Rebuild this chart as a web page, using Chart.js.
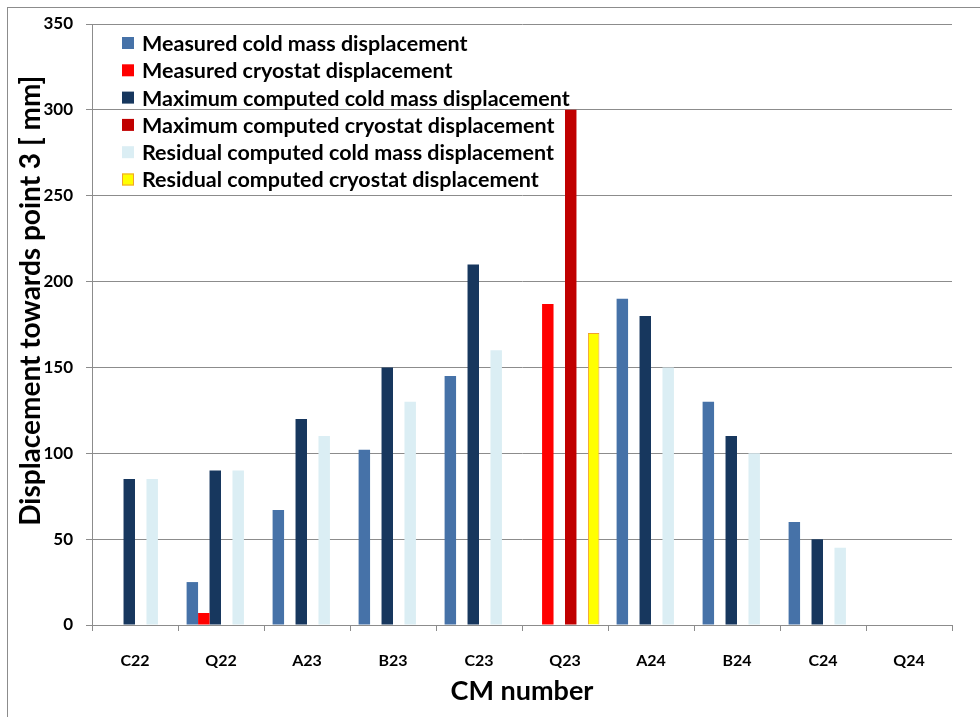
<!DOCTYPE html>
<html>
<head>
<meta charset="utf-8">
<script src="https://cdn.jsdelivr.net/npm/chart.js@4.4.0/dist/chart.umd.min.js"></script>
<style>
  html, body { margin: 0; padding: 0; background: #fff; overflow: hidden; }
  #frame { position: absolute; left: 7px; top: 7px; width: 1200px; height: 1000px; border: 1px solid #8c8c8c; }
  #wrap { position: absolute; left: 0; top: 0; width: 980px; height: 717px; }
</style>
</head>
<body>
<div id="frame"></div>
<div id="wrap"><canvas id="grafica"></canvas></div>
<script>
// CM numbers along the x axis
const labels = ['C22', 'Q22', 'A23', 'B23', 'C23', 'Q23', 'A24', 'B24', 'C24', 'Q24'];

// displacements towards point 3, in mm (null = no bar)
const measuredColdMass  = [null, 25, 67, 102, 145, null, 190, 130, 60, null];
const measuredCryostat  = [null, 7, null, null, null, 187, null, null, null, null];
const maxColdMass       = [85, 90, 120, 150, 210, null, 180, 110, 50, null];
const maxCryostat       = [null, null, null, null, null, 300, null, null, null, null];
const residualColdMass  = [85, 90, 110, 130, 160, null, 150, 100, 45, null];
const residualCryostat  = [null, null, null, null, null, 170, null, null, null, null];

const yMin = 0, yMax = 350, yStep = 50;

const FONT = 'Lato';
const GRID = '#8c8c8c';

// legend drawn inside the plot, top left, one item per row
const legendBox = {
  id: 'legendBox',
  afterDraw(chart) {
    const {ctx, chartArea} = chart;
    ctx.save();
    ctx.font = 'bold 21.5px ' + FONT;
    ctx.textBaseline = 'middle';
    chart.data.datasets.forEach((ds, i) => {
      const x = chartArea.left + 30;
      const y = chartArea.top + 19 + i * 27.3;
      ctx.fillStyle = ds.backgroundColor;
      ctx.fillRect(x, y - 6, 12, 12);
      if (ds.borderWidth) {
        ctx.strokeStyle = ds.borderColor;
        ctx.lineWidth = 1;
        ctx.strokeRect(x + 0.5, y - 5.5, 11, 11);
      }
      ctx.fillStyle = '#000';
      ctx.fillText(ds.label, x + 20, y + 1);
    });
    ctx.restore();
  }
};

const bar = (label, data, color, extra) => Object.assign({
  label: label,
  data: data,
  backgroundColor: color,
  borderWidth: 0,
  categoryPercentage: 0.8,
  barPercentage: 1.0
}, extra || {});

const data = {
  labels: labels,
  datasets: [
    bar('Measured cold mass displacement', measuredColdMass, '#4672a8'),
    bar('Measured cryostat displacement', measuredCryostat, '#ff0000'),
    bar('Maximum computed cold mass displacement', maxColdMass, '#17375e'),
    bar('Maximum computed cryostat displacement', maxCryostat, '#c00000'),
    bar('Residual computed cold mass displacement', residualColdMass, '#dbeef4'),
    bar('Residual computed cryostat displacement', residualCryostat, '#ffff00',
        {borderWidth: 1, borderColor: '#f0a030'})
  ]
};

const config = {
  type: 'bar',
  data: data,
  plugins: [legendBox],
  options: {
    responsive: true,
    maintainAspectRatio: false,
    animation: false,
    devicePixelRatio: 1,
    layout: { padding: { left: 0, right: 28, top: 24, bottom: 0 } },
    plugins: {
      legend: { display: false },
      tooltip: { enabled: false }
    },
    scales: {
      x: {
        grid: { display: true, drawOnChartArea: false, drawTicks: true, tickLength: 6, color: GRID, offset: true },
        border: { display: true, color: GRID },
        ticks: { color: '#000', padding: 20, font: { family: FONT, size: 16, weight: 'bold' } },
        title: { display: true, text: 'CM number', color: '#000', padding: { top: 0, bottom: 10 },
                 font: { family: FONT, size: 27, weight: 'bold' } },
        afterFit(scale) { scale.height = 92; }
      },
      y: {
        min: yMin,
        max: yMax,
        ticks: { stepSize: yStep, color: '#000', padding: 13, font: { family: FONT, size: 17, weight: 'bold' } },
        grid: { color: GRID, tickLength: 6 },
        border: { display: true, color: GRID },
        // leading spaces nudge the rotated title a little towards the top
        title: { display: true, text: '       Displacement towards point 3 [ mm]', color: '#000', padding: { top: 14, bottom: 0 },
                 font: { family: FONT, size: 28, weight: 'bold' } },
        afterFit(scale) { scale.width = 92; }
      }
    }
  }
};

const graph = document.querySelector('#grafica');
new Chart(graph, config);
</script>
</body>
</html>
